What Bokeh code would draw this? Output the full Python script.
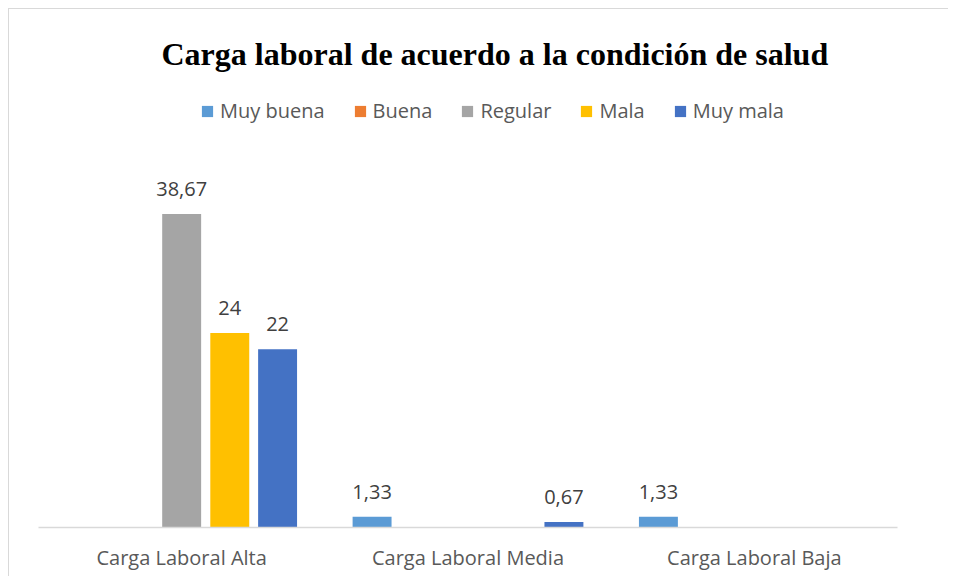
from bokeh.plotting import figure
from bokeh.models import ColumnDataSource, FactorRange, Range1d, Legend, LegendItem
from bokeh.transform import dodge
from bokeh.core.properties import value
from bokeh.embed import file_html
from bokeh.resources import INLINE

categories = ["Carga Laboral Alta", "Carga Laboral Media", "Carga Laboral Baja"]
series = ["Muy buena", "Buena", "Regular", "Mala", "Muy mala"]
muy_buena = [0, 1.33, 1.33]
buena = [0, 0, 0]
regular = [38.67, 0, 0]
mala = [24, 0, 0]
muy_mala = [22, 0.67, 0]
colors = ["#5B9BD5", "#ED7D31", "#A5A5A5", "#FFC000", "#4472C4"]
offsets = [-0.335, -0.168, 0.0, 0.168, 0.335]

values = [muy_buena, buena, regular, mala, muy_mala]

p = figure(x_range=FactorRange(*categories, range_padding=0), y_range=Range1d(0, 53.3),
           width=940, height=568, output_backend="svg", toolbar_location=None,
           min_border_left=29, min_border_right=52, min_border_top=86, min_border_bottom=50)
p.margin = (8, 0, 0, 8)
p.styles = {"border-top": "1px solid #d9d9d9", "border-left": "1px solid #d9d9d9"}

items = []
for name, vals, col, off in zip(series, values, colors, offsets):
    labels = [("%g" % v).replace(".", ",") if v else "" for v in vals]
    src = ColumnDataSource(dict(cat=categories, val=vals, lab=labels))
    r = p.vbar(x=dodge("cat", off, range=p.x_range), top="val", width=0.136, source=src,
               fill_color=col, line_color=None)
    p.text(x=dodge("cat", off, range=p.x_range), y="val", text="lab", source=src,
           text_align="center", text_baseline="alphabetic", y_offset=-25,
           text_font=value("Open Sans"), text_font_size="20px", text_color="#404040")
    items.append(LegendItem(label=name, renderers=[r]))

legend = Legend(items=items, orientation="horizontal", location=(162, 403),
                label_text_font="Open Sans", label_text_font_size="20px", label_text_color="#595959",
                glyph_width=14, glyph_height=14, label_standoff=6, spacing=28,
                padding=0, margin=0, label_height=22, border_line_color=None,
                background_fill_alpha=0)
p.add_layout(legend, "center")

p.title.text = "Carga laboral de acuerdo a la condición de salud"
p.title.text_font = "Liberation Serif"
p.title.text_font_size = "32px"
p.title.text_font_style = "bold"
p.title.text_color = "#000000"
p.title.align = "left"
p.title.offset = 123
p.title.standoff = 47

p.yaxis.visible = False
p.xgrid.grid_line_color = None
p.ygrid.grid_line_color = None
p.outline_line_color = None
p.xaxis.axis_line_color = "#D9D9D9"
p.xaxis.axis_line_width = 1.5
p.xaxis.major_tick_line_color = None
p.xaxis.minor_tick_line_color = None
p.xaxis.major_label_text_font = "Open Sans"
p.xaxis.major_label_text_font_size = "20px"
p.xaxis.major_label_text_color = "#595959"
p.xaxis.major_label_standoff = 10
p.x_range.group_padding = 0

open("out.html", "w").write(file_html(p, INLINE))
